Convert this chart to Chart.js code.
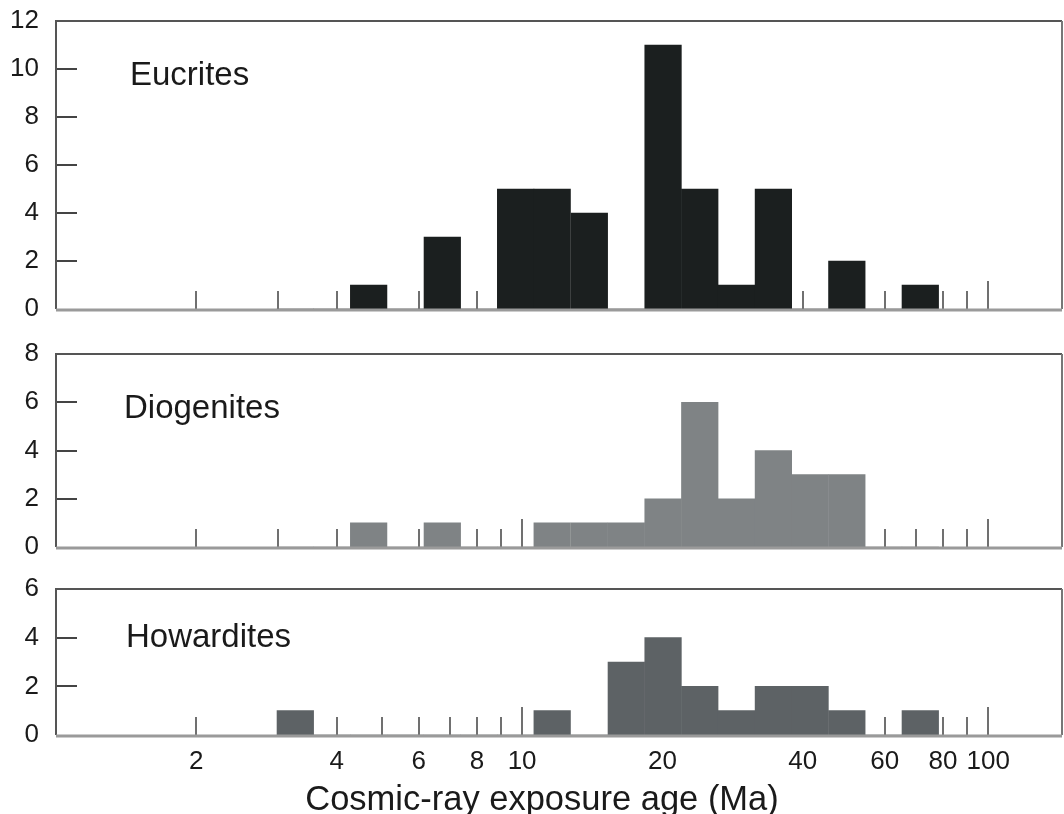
<!DOCTYPE html>
<html>
<head>
<meta charset="utf-8">
<script src="https://cdn.jsdelivr.net/npm/chart.js@4.4.0/dist/chart.umd.min.js"></script>
<style>
  body { margin: 0; background: #fff; }
  #wrap { position: relative; width: 1064px; height: 814px; }
  canvas { position: absolute; left: 0; }
</style>
</head>
<body>
<div id="wrap">
  <canvas id="eucrites" width="1064" height="320" style="top:0px"></canvas>
  <canvas id="diogenites" width="1064" height="230" style="top:330px"></canvas>
  <canvas id="howardites" width="1064" height="254" style="top:560px"></canvas>
</div>
<script>
// bin edges in Ma (log bins)
const binEdges = [2.98, 3.57, 4.28, 5.13, 6.16, 7.38, 8.85, 10.6, 12.7, 15.3, 18.3, 22.0, 26.3, 31.6, 37.9, 45.4, 54.5, 65.3, 78.3];

// counts per bin: bin i goes from binEdges[i] to binEdges[i+1]
const eucrites   = [0, 0, 1, 0, 3, 0, 5, 5, 4, 0, 11, 5, 1, 5, 0, 2, 0, 1];
const diogenites = [0, 0, 1, 0, 1, 0, 0, 1, 1, 1, 2, 6, 2, 4, 3, 3, 0, 0];
const howardites = [1, 0, 0, 0, 0, 0, 0, 1, 0, 3, 4, 2, 1, 2, 2, 1, 0, 1];

const xTickLabels = [2, 4, 6, 8, 10, 20, 40, 60, 80, 100];
const minorTicks = [2, 3, 4, 5, 6, 7, 8, 9, 10, 20, 30, 40, 50, 60, 70, 80, 90, 100];
const majorTicks = [10, 100];

Chart.defaults.font.family = '"Liberation Sans", Arial, Helvetica, sans-serif';
Chart.defaults.color = '#1a1a1a';

// ticks inside the frame, frame lines and panel name
const panelDecor = {
  id: 'panelDecor',
  beforeDatasetsDraw(chart) {
    const { ctx, chartArea: a, scales: { x } } = chart;
    ctx.save();
    ctx.lineWidth = 2;
    ctx.strokeStyle = '#707070';
    minorTicks.forEach(v => {
      const px = Math.round(x.getPixelForValue(v));
      const len = majorTicks.includes(v) ? 28 : 18;
      ctx.beginPath();
      ctx.moveTo(px, a.bottom);
      ctx.lineTo(px, a.bottom - len);
      ctx.stroke();
    });
    ctx.restore();
  },
  afterDatasetsDraw(chart, args, opts) {
    const { ctx, chartArea: a, scales: { y } } = chart;
    ctx.save();
    // y ticks
    ctx.lineWidth = 2;
    ctx.strokeStyle = '#444';
    y.ticks.forEach(t => {
      if (t.value <= y.min || t.value >= y.max) return;
      const py = Math.round(y.getPixelForValue(t.value));
      ctx.beginPath();
      ctx.moveTo(a.left, py);
      ctx.lineTo(a.left + 21, py);
      ctx.stroke();
    });
    // frame
    ctx.strokeStyle = '#555';
    ctx.beginPath();
    ctx.moveTo(a.left, a.bottom);
    ctx.lineTo(a.left, a.top);
    ctx.lineTo(a.right, a.top);
    ctx.stroke();
    ctx.strokeStyle = '#777';
    ctx.beginPath();
    ctx.moveTo(a.right, a.top);
    ctx.lineTo(a.right, a.bottom);
    ctx.stroke();
    ctx.lineWidth = 3;
    ctx.strokeStyle = '#9a9a9a';
    ctx.beginPath();
    ctx.moveTo(a.left, a.bottom + 1);
    ctx.lineTo(a.right, a.bottom + 1);
    ctx.stroke();
    // panel name
    ctx.fillStyle = '#1a1a1a';
    ctx.font = '33px "Liberation Sans", Arial, sans-serif';
    ctx.textBaseline = 'alphabetic';
    ctx.fillText(opts.label, opts.lx, opts.ly);
    if (opts.title) {
      ctx.font = '34.5px "Liberation Sans", Arial, sans-serif';
      ctx.textAlign = 'center';
      ctx.textBaseline = 'middle';
      ctx.fillText(opts.title, opts.tx, opts.ty);
    }
    ctx.restore();
  }
};

function makePanel(id, counts, color, yMax, label, lx, ly, padTop, xHeight, showX) {
  const data = counts.map((c, i) => ({ x: Math.sqrt(binEdges[i] * binEdges[i + 1]), y: c }));
  return new Chart(document.getElementById(id), {
    type: 'bar',
    data: {
      datasets: [{
        data: data,
        backgroundColor: color,
        borderWidth: 0,
        barPercentage: 1,
        categoryPercentage: 1
      }]
    },
    options: {
      responsive: false,
      animation: false,
      devicePixelRatio: 1,
      layout: { padding: { top: padTop, right: 2, left: 0, bottom: 0 } },
      plugins: {
        legend: { display: false },
        tooltip: { enabled: false },
        panelDecor: showX
          ? { label, lx, ly, title: 'Cosmic-ray exposure age (Ma)', tx: 542, ty: 240 }
          : { label, lx, ly }
      },
      scales: {
        x: {
          type: 'logarithmic',
          min: 1,
          max: 144,
          offset: false,
          grid: { display: false, drawTicks: false, offset: false },
          border: { display: false },
          afterBuildTicks: s => { s.ticks = xTickLabels.map(v => ({ value: v })); },
          afterFit: s => { s.height = xHeight; s.paddingLeft = 0; s.paddingRight = 0; },
          ticks: {
            display: showX,
            autoSkip: false,
            maxRotation: 0,
            padding: 11,
            font: { size: 26 },
            callback: v => String(v)
          }
        },
        y: {
          min: 0,
          max: yMax,
          grid: { display: false, drawTicks: false },
          border: { display: false },
          afterFit: s => { s.width = 56; s.paddingTop = 0; s.paddingBottom = 0; },
          ticks: {
            stepSize: 2,
            padding: 17,
            font: { size: 26 }
          }
        }
      }
    },
    plugins: [panelDecor]
  });
}

makePanel('eucrites', eucrites, '#1b1f1f', 12, 'Eucrites', 130, 85, 21, 11, false);
makePanel('diogenites', diogenites, '#7f8385', 8, 'Diogenites', 124, 88, 24, 13, false);
makePanel('howardites', howardites, '#5d6265', 6, 'Howardites', 126, 87, 29, 79, true);
</script>
</body>
</html>
